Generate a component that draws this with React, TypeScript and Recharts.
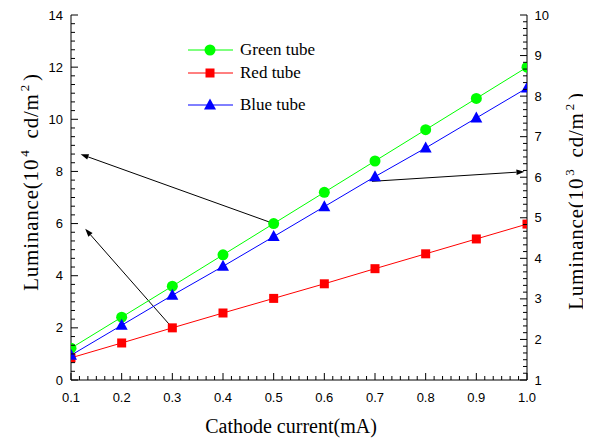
import React from 'react';
import { LineChart, Line, XAxis, YAxis, ReferenceLine, Legend } from 'recharts';

// ---- data ----
const currents = [0.1, 0.2, 0.3, 0.4, 0.5, 0.6, 0.7, 0.8, 0.9, 1.0];
const greenTube = [1.22, 2.41, 3.6, 4.8, 6.0, 7.2, 8.4, 9.6, 10.8, 12.0];
const redTube = [0.85, 1.42, 2.0, 2.57, 3.13, 3.69, 4.27, 4.84, 5.41, 5.98];
const blueTube = [0.95, 2.1, 3.25, 4.36, 5.5, 6.65, 7.8, 8.9, 10.05, 11.2];

const xMajorTicks = [0.1, 0.2, 0.3, 0.4, 0.5, 0.6, 0.7, 0.8, 0.9, 1.0];
const leftMajorTicks = [0, 2, 4, 6, 8, 10, 12, 14];
const rightMajorTicks = [1, 2, 3, 4, 5, 6, 7, 8, 9, 10];

const seriesNames = ['Green tube', 'Red tube', 'Blue tube'];
const seriesColors = ['#00ff00', '#ff0000', '#0000ff'];

// annotation arrows (data coordinates on the left axis)
const arrowFromX = [0.5, 0.3, 0.694];
const arrowFromY = [6.0, 2.0, 7.62];
const arrowToX = [0.119, 0.128, 0.995];
const arrowToY = [8.66, 5.8, 7.99];

const data = currents.map((x, i) => ({
  x,
  green: greenTube[i],
  red: redTube[i],
  blue: blueTube[i],
}));

const withMinor = (majors: number[], n: number) => {
  const out: number[] = [];
  for (let i = 0; i < majors.length - 1; i++) {
    const a = majors[i];
    const b = majors[i + 1];
    for (let k = 0; k <= n; k++) out.push(a + ((b - a) * k) / (n + 1));
  }
  out.push(majors[majors.length - 1]);
  return out;
};

const TICK_FONT = '"Liberation Sans", Arial, sans-serif';
const SERIF = '"Liberation Serif", "Times New Roman", serif';

const isMajor = (majors: number[], v: number) => majors.some((m) => Math.abs(m - v) < 1e-6);

const makeTick = (orient: 'bottom' | 'left' | 'right', majors: number[], fmt: (v: number) => string) =>
  (props: any) => {
    const { x, y, payload } = props;
    const v = payload.value;
    const maj = isMajor(majors, v);
    const len = maj ? 7 : 4;
    if (orient === 'bottom') {
      return (
        <g>
          <line x1={x} y1={y} x2={x} y2={y - len} stroke="#000" strokeWidth={1} />
          {maj && (
            <text x={x} y={y + 22} textAnchor="middle" fontFamily={TICK_FONT} fontSize={13} fill="#000">
              {fmt(v)}
            </text>
          )}
        </g>
      );
    }
    if (orient === 'left') {
      return (
        <g>
          <line x1={x} y1={y} x2={x + len} y2={y} stroke="#000" strokeWidth={1} />
          {maj && (
            <text x={x - 8} y={y + 4.6} textAnchor="end" fontFamily={TICK_FONT} fontSize={13} fill="#000">
              {fmt(v)}
            </text>
          )}
        </g>
      );
    }
    return (
      <g>
        <line x1={x} y1={y} x2={x - len} y2={y} stroke="#000" strokeWidth={1} />
        {maj && (
          <text x={x + 7.5} y={y + 4.6} textAnchor="start" fontFamily={TICK_FONT} fontSize={13} fill="#000">
            {fmt(v)}
          </text>
        )}
      </g>
    );
  };

const CircleDot = (p: any) =>
  p.cx == null ? <g /> : <circle key={p.key} cx={p.cx} cy={p.cy} r={5.5} fill="#00ff00" />;
const SquareDot = (p: any) =>
  p.cx == null ? <g /> : <rect key={p.key} x={p.cx - 4.5} y={p.cy - 4.5} width={9} height={9} fill="#ff0000" />;
const TriDot = (p: any) =>
  p.cx == null ? (
    <g />
  ) : (
    <polygon
      key={p.key}
      points={`${p.cx},${p.cy - 6.5} ${p.cx + 6},${p.cy + 4.5} ${p.cx - 6},${p.cy + 4.5}`}
      fill="#0000ff"
    />
  );

const ArrowShape = (p: any) => {
  const { x1, y1, x2, y2 } = p;
  const dx = x2 - x1;
  const dy = y2 - y1;
  const L = Math.sqrt(dx * dx + dy * dy) || 1;
  const ux = dx / L;
  const uy = dy / L;
  const hl = 8;
  const hw = 2.8;
  const bx = x2 - ux * hl;
  const by = y2 - uy * hl;
  return (
    <g>
      <line x1={x1} y1={y1} x2={bx} y2={by} stroke="#000" strokeWidth={1} />
      <polygon
        points={`${x2},${y2} ${bx - uy * hw},${by + ux * hw} ${bx + uy * hw},${by - ux * hw}`}
        fill="#000"
      />
    </g>
  );
};

const legendRowY = [12, 35, 67];
const LegendMarker = ({ i, cx, cy }: { i: number; cx: number; cy: number }) => {
  if (i === 0) return <circle cx={cx} cy={cy} r={5.5} fill={seriesColors[0]} />;
  if (i === 1) return <rect x={cx - 4.5} y={cy - 4.5} width={9} height={9} fill={seriesColors[1]} />;
  return (
    <polygon points={`${cx},${cy - 6.5} ${cx + 6},${cy + 4.5} ${cx - 6},${cy + 4.5}`} fill={seriesColors[2]} />
  );
};

const renderLegend = () => (
  <svg width={180} height={80} style={{ display: 'block' }}>
    {seriesNames.map((name, i) => (
      <g key={name}>
        <line x1={3} y1={legendRowY[i]} x2={48} y2={legendRowY[i]} stroke={seriesColors[i]} strokeWidth={1} />
        <LegendMarker i={i} cx={25} cy={legendRowY[i]} />
        <text x={55} y={legendRowY[i] + 5} fontFamily={SERIF} fontSize={17} fill="#000">
          {name}
        </text>
      </g>
    ))}
  </svg>
);

const YTitle = ({ tx, ty, exp }: { tx: number; ty: number; exp: string }) => (
  <text
    transform={`translate(${tx},${ty}) rotate(-90)`}
    textAnchor="middle"
    fontFamily={SERIF}
    fontSize={21}
    letterSpacing={0.8}
    fill="#000"
  >
    Luminance(10
    <tspan dx={2} dy={-9} fontSize={13}>{exp}</tspan>
    <tspan dx={5} dy={9}> cd/m</tspan>
    <tspan dx={2} dy={-9} fontSize={13}>2</tspan>
    <tspan dx={3} dy={9}>)</tspan>
  </text>
);

export default function App() {
  const xTicks = withMinor(xMajorTicks, 5);
  const leftTicks = withMinor(leftMajorTicks, 5);
  const rightTicks = withMinor(rightMajorTicks, 5);
  return (
    <div style={{ position: 'relative', width: 583, height: 432 }}>
      <LineChart width={583} height={432} data={data} margin={{ top: 7, right: 0, bottom: 0, left: 0 }}>
        <XAxis
          dataKey="x"
          type="number"
          domain={[0.1, 1.0]}
          ticks={xTicks}
          interval={0}
          height={60}
          tickSize={0}
          tickMargin={0}
          tickLine={false}
          axisLine={{ stroke: '#000', strokeWidth: 1 }}
          tick={makeTick('bottom', xMajorTicks, (v) => v.toFixed(1))}
          allowDataOverflow
        />
        <YAxis
          yAxisId="left"
          orientation="left"
          type="number"
          domain={[0, 14]}
          ticks={leftTicks}
          interval={0}
          width={63}
          tickSize={0}
          tickMargin={0}
          tickLine={false}
          axisLine={{ stroke: '#000', strokeWidth: 1 }}
          tick={makeTick('left', leftMajorTicks, (v) => String(Math.round(v)))}
          allowDataOverflow
        />
        <YAxis
          yAxisId="right"
          orientation="right"
          type="number"
          domain={[1, 10]}
          ticks={rightTicks}
          interval={0}
          width={64}
          tickSize={0}
          tickMargin={0}
          tickLine={false}
          axisLine={{ stroke: '#000', strokeWidth: 1 }}
          tick={makeTick('right', rightMajorTicks, (v) => String(Math.round(v)))}
          allowDataOverflow
        />
        <Legend
          layout="vertical"
          align="center"
          verticalAlign="middle"
          content={renderLegend}
          wrapperStyle={{ position: 'absolute', left: 177, top: 30, width: 180, height: 80 }}
        />
        {arrowFromX.map((fx, i) => (
          <ReferenceLine
            key={'arrow' + i}
            yAxisId="left"
            segment={[
              { x: fx, y: arrowFromY[i] },
              { x: arrowToX[i], y: arrowToY[i] },
            ]}
            ifOverflow="visible"
            shape={ArrowShape}
          />
        ))}
        <Line
          yAxisId="left"
          dataKey="green"
          name={seriesNames[0]}
          stroke={seriesColors[0]}
          strokeWidth={1}
          dot={CircleDot}
          activeDot={false}
          isAnimationActive={false}
        />
        <Line
          yAxisId="left"
          dataKey="red"
          name={seriesNames[1]}
          stroke={seriesColors[1]}
          strokeWidth={1}
          dot={SquareDot}
          activeDot={false}
          isAnimationActive={false}
        />
        <Line
          yAxisId="left"
          dataKey="blue"
          name={seriesNames[2]}
          stroke={seriesColors[2]}
          strokeWidth={1}
          dot={TriDot}
          activeDot={false}
          isAnimationActive={false}
        />
      </LineChart>
      <svg
        width={583}
        height={432}
        style={{ position: 'absolute', left: 0, top: 0, pointerEvents: 'none' }}
      >
        <text x={283} y={425} textAnchor="middle" fontFamily={SERIF} fontSize={20} fill="#000">
          Cathode current(mA)
        </text>
        <YTitle tx={30} ty={174} exp="4" />
        <YTitle tx={575} ty={193} exp="3" />
      </svg>
    </div>
  );
}
